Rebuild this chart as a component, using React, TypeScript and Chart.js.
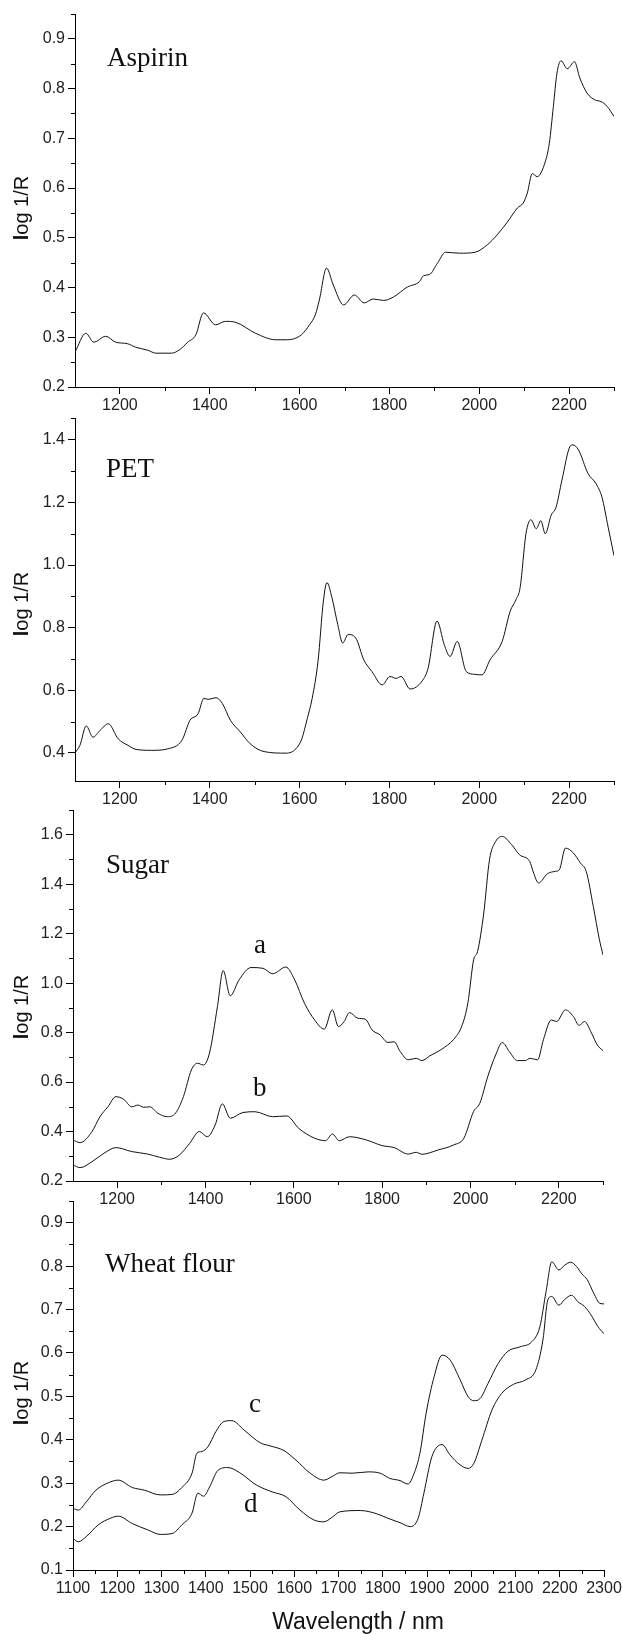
import React, { useEffect, useRef } from 'react';
import { Chart, registerables } from 'chart.js';

Chart.register(...registerables);

// ---------- data (wavelength nm, log 1/R) ----------
const ASPIRIN: [number, number][] = [
  [1100, 0.270], [1124, 0.308], [1142, 0.290], [1168, 0.302], [1191, 0.290], [1217, 0.287],
  [1235, 0.280], [1262, 0.274], [1280, 0.268], [1315, 0.268], [1333, 0.275], [1351, 0.290],
  [1369, 0.305], [1386, 0.349], [1413, 0.325], [1435, 0.332], [1458, 0.330], [1502, 0.308],
  [1547, 0.295], [1573, 0.295], [1604, 0.305], [1622, 0.325], [1635, 0.345], [1644, 0.375],
  [1660, 0.439], [1675, 0.405], [1698, 0.365], [1722, 0.385], [1744, 0.369], [1764, 0.377],
  [1787, 0.374], [1809, 0.381], [1840, 0.401], [1867, 0.412], [1876, 0.424], [1889, 0.426],
  [1907, 0.449], [1925, 0.471], [1956, 0.469], [1991, 0.471], [2018, 0.486], [2040, 0.506],
  [2062, 0.531], [2085, 0.560], [2098, 0.570], [2107, 0.590], [2118, 0.629], [2129, 0.623],
  [2147, 0.653], [2156, 0.690], [2165, 0.764], [2173, 0.831], [2182, 0.856], [2196, 0.840],
  [2212, 0.854], [2224, 0.821], [2240, 0.791], [2258, 0.777], [2271, 0.774], [2285, 0.764],
  [2300, 0.744],
];

const PET: [number, number][] = [
  [1100, 0.400], [1111, 0.424], [1125, 0.486], [1140, 0.450], [1156, 0.472], [1174, 0.493],
  [1196, 0.445], [1218, 0.424], [1236, 0.411], [1271, 0.408], [1307, 0.413], [1338, 0.440],
  [1356, 0.504], [1374, 0.525], [1387, 0.574], [1396, 0.571], [1414, 0.576], [1428, 0.558],
  [1446, 0.504], [1468, 0.467], [1490, 0.429], [1521, 0.404], [1570, 0.399], [1592, 0.413],
  [1605, 0.445], [1617, 0.509], [1628, 0.574], [1641, 0.692], [1653, 0.885], [1661, 0.944],
  [1672, 0.896], [1685, 0.810], [1696, 0.751], [1708, 0.778], [1725, 0.767], [1743, 0.697],
  [1761, 0.660], [1784, 0.617], [1801, 0.644], [1815, 0.638], [1826, 0.644], [1846, 0.604],
  [1873, 0.630], [1886, 0.670], [1906, 0.821], [1922, 0.746], [1935, 0.708], [1951, 0.756],
  [1971, 0.660], [1989, 0.651], [2006, 0.649], [2024, 0.697], [2051, 0.756], [2069, 0.853],
  [2082, 0.890], [2091, 0.928], [2104, 1.100], [2115, 1.145], [2127, 1.116], [2137, 1.142],
  [2147, 1.100], [2160, 1.159], [2171, 1.185], [2184, 1.271], [2202, 1.379], [2208, 1.384],
  [2221, 1.368], [2242, 1.293], [2260, 1.260], [2273, 1.218], [2287, 1.121], [2300, 1.030],
];

const SUGAR_A: [number, number][] = [
  [1100, 0.366], [1116, 0.355], [1143, 0.400], [1161, 0.460], [1179, 0.500], [1197, 0.541],
  [1215, 0.530], [1233, 0.500], [1247, 0.507], [1260, 0.498], [1274, 0.500], [1292, 0.474],
  [1314, 0.460], [1332, 0.474], [1350, 0.541], [1368, 0.649], [1382, 0.676], [1395, 0.669],
  [1409, 0.717], [1427, 0.905], [1440, 1.051], [1456, 0.949], [1476, 1.013], [1503, 1.063],
  [1530, 1.060], [1552, 1.038], [1582, 1.065], [1602, 1.013], [1624, 0.919], [1647, 0.851],
  [1669, 0.814], [1687, 0.892], [1701, 0.824], [1714, 0.845], [1726, 0.881], [1745, 0.858],
  [1762, 0.854], [1777, 0.811], [1795, 0.791], [1813, 0.760], [1827, 0.763], [1841, 0.723],
  [1859, 0.690], [1877, 0.696], [1890, 0.687], [1908, 0.706], [1935, 0.733], [1962, 0.773],
  [1980, 0.825], [1994, 0.919], [2007, 1.094], [2016, 1.128], [2030, 1.283], [2043, 1.499],
  [2057, 1.573], [2072, 1.593], [2093, 1.560], [2111, 1.519], [2134, 1.492], [2143, 1.445],
  [2154, 1.405], [2174, 1.442], [2192, 1.452], [2201, 1.458], [2215, 1.546], [2233, 1.526],
  [2249, 1.485], [2262, 1.452], [2278, 1.310], [2292, 1.175], [2300, 1.114],
];

const SUGAR_B: [number, number][] = [
  [1100, 0.265], [1116, 0.254], [1143, 0.278], [1170, 0.312], [1197, 0.335], [1233, 0.319],
  [1269, 0.309], [1296, 0.296], [1319, 0.288], [1341, 0.305], [1364, 0.352], [1386, 0.400],
  [1404, 0.379], [1422, 0.427], [1438, 0.512], [1456, 0.454], [1485, 0.477], [1512, 0.480],
  [1552, 0.460], [1584, 0.463], [1611, 0.413], [1647, 0.373], [1672, 0.363], [1687, 0.390],
  [1703, 0.363], [1726, 0.379], [1764, 0.366], [1800, 0.343], [1827, 0.335], [1859, 0.309],
  [1877, 0.316], [1890, 0.308], [1926, 0.325], [1962, 0.346], [1985, 0.373], [2007, 0.481],
  [2021, 0.514], [2039, 0.622], [2057, 0.710], [2072, 0.760], [2088, 0.723], [2106, 0.687],
  [2124, 0.687], [2135, 0.696], [2152, 0.690], [2165, 0.771], [2183, 0.851], [2195, 0.845],
  [2215, 0.892], [2233, 0.865], [2246, 0.829], [2258, 0.845], [2274, 0.798], [2287, 0.750],
  [2300, 0.727],
];

const WHEAT_C: [number, number][] = [
  [1100, 0.242], [1112, 0.238], [1130, 0.257], [1152, 0.284], [1180, 0.301], [1202, 0.307],
  [1234, 0.290], [1261, 0.284], [1297, 0.273], [1324, 0.274], [1346, 0.290], [1369, 0.323],
  [1380, 0.369], [1391, 0.373], [1405, 0.384], [1423, 0.419], [1441, 0.442], [1459, 0.444],
  [1487, 0.422], [1523, 0.393], [1545, 0.386], [1577, 0.375], [1604, 0.353], [1636, 0.323],
  [1667, 0.307], [1685, 0.315], [1703, 0.324], [1731, 0.323], [1767, 0.326], [1794, 0.323],
  [1816, 0.311], [1839, 0.306], [1857, 0.298], [1871, 0.323], [1884, 0.369], [1898, 0.461],
  [1916, 0.545], [1934, 0.595], [1952, 0.584], [1975, 0.538], [1993, 0.499], [2006, 0.490],
  [2020, 0.495], [2038, 0.530], [2061, 0.576], [2083, 0.604], [2110, 0.614], [2137, 0.626],
  [2155, 0.660], [2169, 0.741], [2182, 0.810], [2198, 0.791], [2211, 0.802], [2225, 0.809],
  [2238, 0.799], [2250, 0.782], [2262, 0.769], [2277, 0.737], [2291, 0.714], [2300, 0.713],
];

const WHEAT_D: [number, number][] = [
  [1100, 0.173], [1112, 0.165], [1130, 0.177], [1157, 0.204], [1184, 0.219], [1202, 0.224],
  [1234, 0.207], [1270, 0.192], [1297, 0.182], [1324, 0.184], [1346, 0.204], [1369, 0.231],
  [1382, 0.277], [1395, 0.270], [1409, 0.292], [1427, 0.329], [1450, 0.336], [1477, 0.324],
  [1514, 0.296], [1550, 0.280], [1581, 0.269], [1613, 0.238], [1645, 0.215], [1667, 0.211],
  [1685, 0.221], [1703, 0.234], [1749, 0.237], [1785, 0.230], [1812, 0.219], [1839, 0.209],
  [1862, 0.200], [1880, 0.219], [1893, 0.277], [1911, 0.361], [1934, 0.389], [1952, 0.365],
  [1975, 0.342], [1993, 0.334], [2006, 0.346], [2024, 0.399], [2047, 0.469], [2069, 0.507],
  [2096, 0.528], [2123, 0.538], [2146, 0.561], [2162, 0.630], [2173, 0.722], [2182, 0.730],
  [2198, 0.710], [2211, 0.723], [2227, 0.733], [2241, 0.718], [2256, 0.707], [2271, 0.687],
  [2286, 0.661], [2300, 0.644],
];

// ---------- tick labels ----------
const X_TICKS_200 = [1200, 1400, 1600, 1800, 2000, 2200];
const X_MINOR_200 = [1300, 1500, 1700, 1900, 2100, 2300];
const X_TICKS_100 = [1100, 1200, 1300, 1400, 1500, 1600, 1700, 1800, 1900, 2000, 2100, 2200, 2300];
const X_MINOR_100 = [1150, 1250, 1350, 1450, 1550, 1650, 1750, 1850, 1950, 2050, 2150, 2250];

const Y_TICKS_ASPIRIN = [0.2, 0.3, 0.4, 0.5, 0.6, 0.7, 0.8, 0.9];
const Y_MINOR_ASPIRIN = [0.25, 0.35, 0.45, 0.55, 0.65, 0.75, 0.85, 0.95];
const Y_TICKS_PET = [0.4, 0.6, 0.8, 1.0, 1.2, 1.4];
const Y_MINOR_PET = [0.5, 0.7, 0.9, 1.1, 1.3, 1.47];
const Y_TICKS_SUGAR = [0.2, 0.4, 0.6, 0.8, 1.0, 1.2, 1.4, 1.6];
const Y_MINOR_SUGAR = [0.3, 0.5, 0.7, 0.9, 1.1, 1.3, 1.5, 1.7];
const Y_TICKS_WHEAT = [0.1, 0.2, 0.3, 0.4, 0.5, 0.6, 0.7, 0.8, 0.9];
const Y_MINOR_WHEAT = [0.15, 0.25, 0.35, 0.45, 0.55, 0.65, 0.75, 0.85, 0.95];

const SANS = '"Liberation Sans", Arial, sans-serif';
const SERIF = '"Liberation Serif", "Times New Roman", serif';
const W = 622;

type Panel = {
  canvasTop: number; canvasH: number;
  left: number; right: number; top: number; bottom: number;
  yMin: number; yMax: number;
  yTicks: number[]; yMinor: number[];
  xTicks: number[]; xMinor: number[];
  series: [number, number][][];
};

const PANELS: Panel[] = [
  { canvasTop: 0, canvasH: 420, left: 75, right: 614, top: 14, bottom: 387, yMin: 0.2, yMax: 0.95,
    yTicks: Y_TICKS_ASPIRIN, yMinor: Y_MINOR_ASPIRIN, xTicks: X_TICKS_200, xMinor: X_MINOR_200, series: [ASPIRIN] },
  { canvasTop: 400, canvasH: 420, left: 75, right: 614, top: 418, bottom: 781, yMin: 0.31, yMax: 1.47,
    yTicks: Y_TICKS_PET, yMinor: Y_MINOR_PET, xTicks: X_TICKS_200, xMinor: X_MINOR_200, series: [PET] },
  { canvasTop: 800, canvasH: 420, left: 73, right: 603, top: 810, bottom: 1181, yMin: 0.2, yMax: 1.7,
    yTicks: Y_TICKS_SUGAR, yMinor: Y_MINOR_SUGAR, xTicks: X_TICKS_200, xMinor: X_MINOR_200, series: [SUGAR_A, SUGAR_B] },
  { canvasTop: 1195, canvasH: 439, left: 73, right: 604, top: 1201, bottom: 1570, yMin: 0.1, yMax: 0.95,
    yTicks: Y_TICKS_WHEAT, yMinor: Y_MINOR_WHEAT, xTicks: X_TICKS_100, xMinor: X_MINOR_100, series: [WHEAT_C, WHEAT_D] },
];

const MINOR_LEN = 4;
const MAJOR_LEN = 7;

const minorTicksPlugin = {
  id: 'minorTicks',
  afterDraw(chart: any, _args: any, opts: any) {
    const { ctx } = chart;
    const xs = chart.scales.x;
    const ys = chart.scales.y;
    ctx.save();
    ctx.strokeStyle = '#000';
    ctx.lineWidth = 1;
    ctx.beginPath();
    for (const v of opts.xMinor || []) {
      const px = Math.round(xs.getPixelForValue(v)) + 0.5;
      ctx.moveTo(px, xs.top);
      ctx.lineTo(px, xs.top + MINOR_LEN);
    }
    for (const v of opts.yMinor || []) {
      const py = Math.round(ys.getPixelForValue(v)) + 0.5;
      ctx.moveTo(ys.right - MINOR_LEN, py);
      ctx.lineTo(ys.right, py);
    }
    ctx.stroke();
    ctx.restore();
  },
};

function PanelChart({ p }: { p: Panel }) {
  const ref = useRef<HTMLCanvasElement | null>(null);
  useEffect(() => {
    if (!ref.current) return;
    const xH = p.canvasH - (p.bottom - p.canvasTop);
    const chart = new Chart(ref.current, {
      type: 'line',
      data: {
        datasets: p.series.map((s) => ({
          data: s.map(([x, y]) => ({ x, y })),
          borderColor: '#111',
          borderWidth: 1,
          pointRadius: 0,
          fill: false,
          cubicInterpolationMode: 'monotone' as const,
        })),
      },
      options: {
        animation: false,
        responsive: false,
        devicePixelRatio: 1,
        layout: { padding: { top: p.top - p.canvasTop, right: W - p.right, left: 0, bottom: 0 } },
        plugins: {
          legend: { display: false },
          tooltip: { enabled: false },
          title: { display: false },
          // @ts-ignore
          minorTicks: { xMinor: p.xMinor, yMinor: p.yMinor },
        },
        scales: {
          x: {
            type: 'linear',
            min: 1100,
            max: 2300,
            position: 'bottom',
            afterBuildTicks: (s: any) => { s.ticks = p.xTicks.map((v) => ({ value: v })); },
            afterFit: (s: any) => { s.height = xH; s.paddingLeft = 0; s.paddingRight = 0; },
            grid: { display: true, drawOnChartArea: false, drawTicks: true, tickLength: MAJOR_LEN, color: '#000', lineWidth: 1 },
            border: { display: true, color: '#000', width: 1 },
            ticks: {
              autoSkip: false, maxRotation: 0, minRotation: 0, padding: 2, color: '#222',
              font: { family: SANS, size: 16 },
              callback: (v: any) => String(Math.round(Number(v))),
            },
          },
          y: {
            type: 'linear',
            min: p.yMin,
            max: p.yMax,
            position: 'left',
            afterBuildTicks: (s: any) => { s.ticks = p.yTicks.map((v) => ({ value: v })); },
            afterFit: (s: any) => { s.width = p.left; s.paddingTop = 0; s.paddingBottom = 0; },
            grid: { display: true, drawOnChartArea: false, drawTicks: true, tickLength: MAJOR_LEN, color: '#000', lineWidth: 1 },
            border: { display: true, color: '#000', width: 1 },
            ticks: {
              padding: 3, color: '#222',
              font: { family: SANS, size: 16 },
              callback: (v: any) => Number(v).toFixed(1),
            },
          },
        },
      },
      plugins: [minorTicksPlugin],
    } as any);
    return () => chart.destroy();
  }, [p]);
  return (
    <canvas
      ref={ref}
      width={W}
      height={p.canvasH}
      style={{ position: 'absolute', left: 0, top: p.canvasTop, width: W, height: p.canvasH }}
    />
  );
}

// text placed by baseline
function Label({ text, x, baseline, size, serif }: { text: string; x: number; baseline: number; size: number; serif?: boolean }) {
  const asc = serif ? 0.8375 : 0.8465;
  return (
    <div
      style={{
        position: 'absolute', left: x, top: baseline - asc * size, fontSize: size, lineHeight: 1,
        fontFamily: serif ? SERIF : SANS, color: '#111', whiteSpace: 'nowrap',
      }}
    >
      {text}
    </div>
  );
}

function YTitle({ cy }: { cy: number }) {
  return (
    <div
      style={{
        position: 'absolute', left: 21, top: cy, transform: 'translate(-50%, -50%) rotate(-90deg)',
        fontFamily: SANS, fontSize: 20, lineHeight: 1, color: '#111', whiteSpace: 'nowrap',
      }}
    >
      <span style={{ fontWeight: 'bold' }}>l</span>og 1/R
    </div>
  );
}

export default function App() {
  return (
    <div style={{ position: 'absolute', left: 0, top: 0, width: W, height: 1634, background: '#fff', overflow: 'hidden' }}>
      {PANELS.map((p, i) => <PanelChart key={i} p={p} />)}
      <YTitle cy={208} />
      <YTitle cy={604} />
      <YTitle cy={1007} />
      <YTitle cy={1393} />
      <Label text="Aspirin" x={107} baseline={67} size={27} serif />
      <Label text="PET" x={106} baseline={478} size={27} serif />
      <Label text="Sugar" x={106} baseline={874} size={27} serif />
      <Label text="a" x={254} baseline={954} size={27} serif />
      <Label text="b" x={253} baseline={1097} size={27} serif />
      <Label text="Wheat flour" x={105} baseline={1273} size={27} serif />
      <Label text="c" x={249} baseline={1413} size={27} serif />
      <Label text="d" x={244} baseline={1513} size={27} serif />
      <div
        style={{
          position: 'absolute', left: 258, width: 200, textAlign: 'center', top: 1629 - 0.8465 * 23,
          fontFamily: SANS, fontSize: 23, lineHeight: 1, color: '#111', whiteSpace: 'nowrap',
        }}
      >
        Wavelength / nm
      </div>
    </div>
  );
}
